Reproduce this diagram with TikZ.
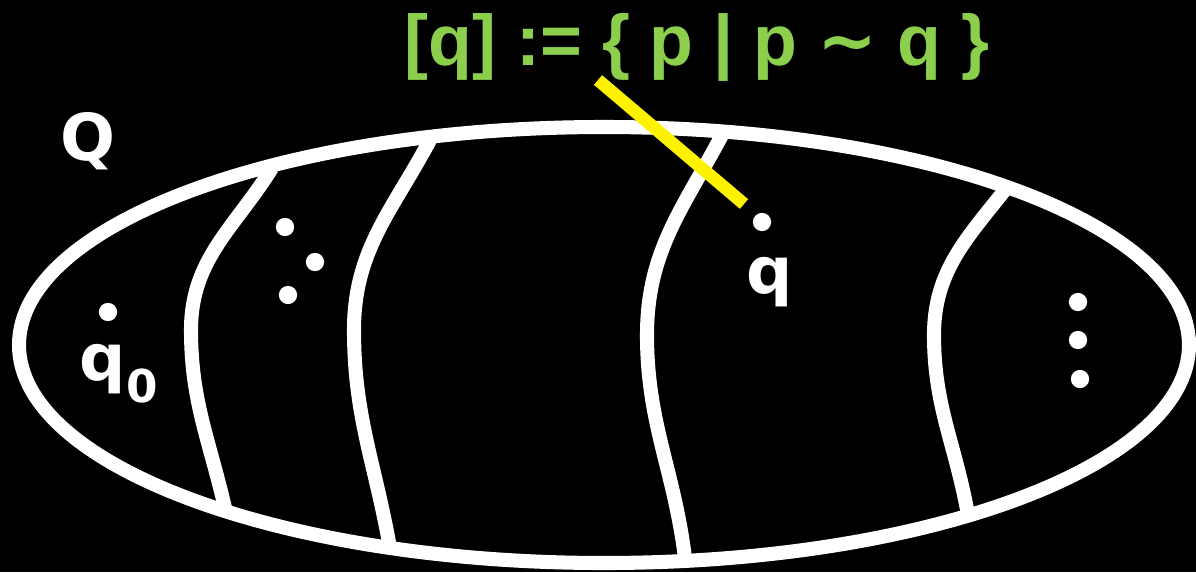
\documentclass[tikz,border=0pt]{standalone}
\usepackage{fontspec}
\setmainfont{DejaVu Sans}
\newfontfamily\clsfont{Liberation Sans}
\usepackage{xcolor}
\usetikzlibrary{positioning}
\definecolor{lime}{HTML}{8CCF4D}
\definecolor{marker}{HTML}{FFF200}
\newcommand{\simrel}{{\rmfamily\bfseries\char"223C}}

\begin{document}
\begin{tikzpicture}[x=0.025cm,y=-0.025cm,
  wall/.style={draw=white,line width=10pt},
  dot/.style={circle,fill=white,inner sep=0pt,minimum size=13pt},
  lbl/.style={text=white,font=\bfseries\fontsize{46}{46}\selectfont,inner sep=0pt},
  cls/.style={text=lime,font=\clsfont\bfseries\fontsize{51}{51}\selectfont,inner sep=0pt},
  hook/.style={draw=marker,line width=9pt}]

\fill[black] (0,0) rectangle (1196,572);
\useasboundingbox (0,0) rectangle (1196,572);

% the set Q
\draw[wall] (604,345) ellipse [x radius=585,y radius=218];

% class borders
\draw[wall] (272,168) to[out=-122,in=90] (191,330) to[out=-90,in=103] (225,508);
\draw[wall] (430,140) to[out=-118,in=90] (354,330) to[out=-90,in=100] (390,548);
\draw[wall] (722,135) to[out=-118,in=90] (647,335) to[out=-90,in=97] (685,558);
\draw[wall] (1008,186) to[out=-128,in=90] (934,335) to[out=-90,in=100] (968,515);

% states
\node[dot] (q0) at (108,312) {};
\node[dot] (a1) at (285,227) {};
\node[dot] (a2) at (315,262) {};
\node[dot] (a3) at (288,295) {};
\node[dot] (q) at (762,222) {};
\node[dot] (b1) at (1078,302) {};
\node[dot] (b2) at (1078,340) {};
\node[dot] (b3) at (1080,379) {};

\node[lbl] (setQ) at (88,141) {Q};
\node[lbl] (lq0) at (119,374) {q\textsubscript{0}};
\node[lbl] (lq) at (770,282) {q};

\node[cls] (def) at (697,47) {[q] := \{ p | p \simrel{} q \}};
\coordinate (tip) at (598,80);
\coordinate (end) at (744,204);
\draw[hook] (tip) -- (end);
\end{tikzpicture}
\end{document}
